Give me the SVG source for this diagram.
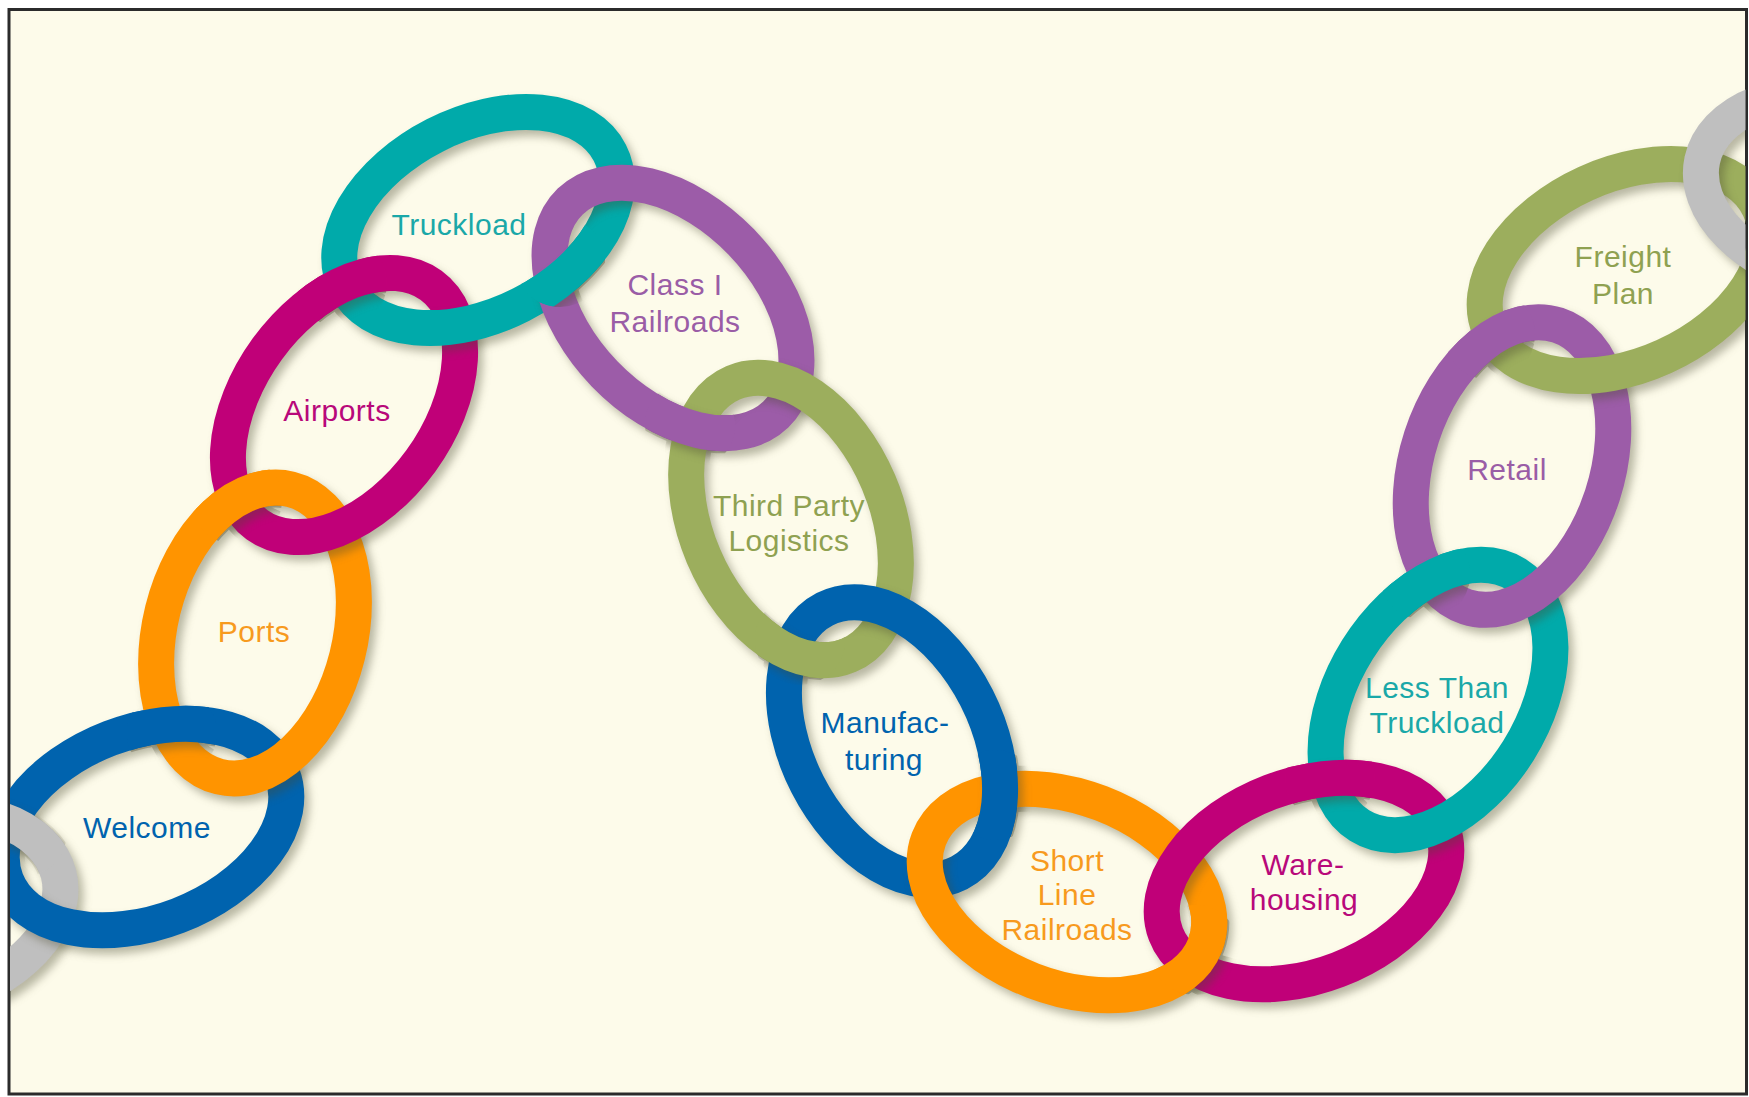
<svg xmlns="http://www.w3.org/2000/svg" xmlns:xlink="http://www.w3.org/1999/xlink" width="1749" height="1097" viewBox="0 0 1749 1097">
<style>
.ring{fill:none;stroke-width:36;filter:url(#sh)}
.blue{stroke:#0063AE}.orange{stroke:#FF9400}.magenta{stroke:#C00078}.teal{stroke:#00AAAA}
.purple{stroke:#9C5CA8}.green{stroke:#9CAE5D}.gray{stroke:#BFBFBF}
.m{fill:none;stroke:#fff}
text{font-family:"Liberation Sans",Arial,sans-serif;font-size:30px;letter-spacing:0.5px;text-anchor:middle}
.tblue{fill:#0063AE}.torange{fill:#F79A1E}.tmagenta{fill:#B8087A}.tteal{fill:#1AA8A8}.tpurple{fill:#9A5DA6}.tgreen{fill:#8FA151}
</style>
<defs>
<filter id="sh" x="-20%" y="-20%" width="140%" height="140%" color-interpolation-filters="sRGB">
<feDropShadow dx="5" dy="6" stdDeviation="4.5" flood-color="#4a4a30" flood-opacity="0.38"/>
</filter>
<clipPath id="frameClip"><rect x="10" y="10.5" width="1735.5" height="1082"/></clipPath>
<ellipse id="e0" fill="none" rx="148" ry="95" transform="translate(-85 910) rotate(-14)"/>
<ellipse id="e1" fill="none" rx="148" ry="95" transform="translate(144 827) rotate(-21)"/>
<ellipse id="e2" fill="none" rx="148" ry="95" transform="translate(255 633) rotate(-76)"/>
<ellipse id="e3" fill="none" rx="148" ry="95" transform="translate(344 405) rotate(-54)"/>
<ellipse id="e4" fill="none" rx="148" ry="95" transform="translate(478 220) rotate(-27)"/>
<ellipse id="e5" fill="none" rx="148" ry="95" transform="translate(673 308) rotate(46)"/>
<ellipse id="e6" fill="none" rx="148" ry="95" transform="translate(791 519) rotate(67)"/>
<ellipse id="e7" fill="none" rx="148" ry="95" transform="translate(892 741) rotate(63)"/>
<ellipse id="e8" fill="none" rx="148" ry="95" transform="translate(1067 892) rotate(21)"/>
<ellipse id="e9" fill="none" rx="148" ry="95" transform="translate(1304 881) rotate(-21)"/>
<ellipse id="e10" fill="none" rx="148" ry="95" transform="translate(1438 700) rotate(-58)"/>
<ellipse id="e11" fill="none" rx="148" ry="95" transform="translate(1512 466) rotate(-72)"/>
<ellipse id="e12" fill="none" rx="148" ry="95" transform="translate(1625 270) rotate(-24.5)"/>
<ellipse id="e13" fill="none" rx="148" ry="95" transform="translate(1847 191) rotate(12)"/>
<clipPath id="k0"><circle cx="22" cy="832" r="45"/></clipPath>
<clipPath id="k1"><circle cx="172" cy="733" r="45"/></clipPath>
<clipPath id="k2"><circle cx="237" cy="500" r="45"/></clipPath>
<clipPath id="k3"><circle cx="342" cy="283" r="45"/></clipPath>
<clipPath id="k4"><circle cx="560" cy="262" r="45"/></clipPath>
<clipPath id="k5"><circle cx="690" cy="425" r="45"/></clipPath>
<clipPath id="k6"><circle cx="800" cy="640" r="45"/></clipPath>
<clipPath id="k7"><circle cx="995" cy="795" r="45"/></clipPath>
<clipPath id="k8"><circle cx="1195" cy="950" r="45"/></clipPath>
<clipPath id="k9"><circle cx="1330" cy="778" r="45"/></clipPath>
<clipPath id="k10"><circle cx="1425" cy="575" r="45"/></clipPath>
<clipPath id="k11"><circle cx="1490" cy="335" r="45"/></clipPath>
<mask id="m0" maskUnits="userSpaceOnUse" x="-300" y="-300" width="2400" height="1700"><g clip-path="url(#k0)"><use href="#e0" class="m" stroke-width="40"/><use href="#e1" class="m" stroke-width="46"/></g></mask>
<mask id="m1" maskUnits="userSpaceOnUse" x="-300" y="-300" width="2400" height="1700"><g clip-path="url(#k1)"><use href="#e1" class="m" stroke-width="40"/><use href="#e2" class="m" stroke-width="46"/></g></mask>
<mask id="m2" maskUnits="userSpaceOnUse" x="-300" y="-300" width="2400" height="1700"><g clip-path="url(#k2)"><use href="#e2" class="m" stroke-width="40"/><use href="#e3" class="m" stroke-width="46"/></g></mask>
<mask id="m3" maskUnits="userSpaceOnUse" x="-300" y="-300" width="2400" height="1700"><g clip-path="url(#k3)"><use href="#e3" class="m" stroke-width="40"/><use href="#e4" class="m" stroke-width="46"/></g></mask>
<mask id="m4" maskUnits="userSpaceOnUse" x="-300" y="-300" width="2400" height="1700"><g clip-path="url(#k4)"><use href="#e4" class="m" stroke-width="40"/><use href="#e5" class="m" stroke-width="46"/></g></mask>
<mask id="m5" maskUnits="userSpaceOnUse" x="-300" y="-300" width="2400" height="1700"><g clip-path="url(#k5)"><use href="#e5" class="m" stroke-width="40"/><use href="#e6" class="m" stroke-width="46"/></g></mask>
<mask id="m6" maskUnits="userSpaceOnUse" x="-300" y="-300" width="2400" height="1700"><g clip-path="url(#k6)"><use href="#e6" class="m" stroke-width="40"/><use href="#e7" class="m" stroke-width="46"/></g></mask>
<mask id="m7" maskUnits="userSpaceOnUse" x="-300" y="-300" width="2400" height="1700"><g clip-path="url(#k7)"><use href="#e7" class="m" stroke-width="40"/><use href="#e8" class="m" stroke-width="46"/></g></mask>
<mask id="m8" maskUnits="userSpaceOnUse" x="-300" y="-300" width="2400" height="1700"><g clip-path="url(#k8)"><use href="#e8" class="m" stroke-width="40"/><use href="#e9" class="m" stroke-width="46"/></g></mask>
<mask id="m9" maskUnits="userSpaceOnUse" x="-300" y="-300" width="2400" height="1700"><g clip-path="url(#k9)"><use href="#e9" class="m" stroke-width="40"/><use href="#e10" class="m" stroke-width="46"/></g></mask>
<mask id="m10" maskUnits="userSpaceOnUse" x="-300" y="-300" width="2400" height="1700"><g clip-path="url(#k10)"><use href="#e10" class="m" stroke-width="40"/><use href="#e11" class="m" stroke-width="46"/></g></mask>
<mask id="m11" maskUnits="userSpaceOnUse" x="-300" y="-300" width="2400" height="1700"><g clip-path="url(#k11)"><use href="#e11" class="m" stroke-width="40"/><use href="#e12" class="m" stroke-width="46"/></g></mask>
</defs>
<rect x="0" y="0" width="1749" height="1097" fill="#ffffff"/>
<rect id="frame" x="9" y="9.5" width="1737.5" height="1084.5" fill="#FDFBEA" stroke="#2b2b2b" stroke-width="3"/>
<g id="chain" clip-path="url(#frameClip)">
<g id="link-gray-left"><use href="#e0" class="ring gray"/></g>
<g id="welcome"><use href="#e1" class="ring blue"/><text class="tblue" x="147" y="838">Welcome</text></g>
<g id="ports"><use href="#e2" class="ring orange"/><text class="torange" x="254" y="642">Ports</text></g>
<g id="airports"><use href="#e3" class="ring magenta"/><text class="tmagenta" x="337" y="421">Airports</text></g>
<g id="truckload"><use href="#e4" class="ring teal"/><text class="tteal" x="459" y="235">Truckload</text></g>
<g id="class-i-railroads"><use href="#e5" class="ring purple"/><text class="tpurple" x="675" y="295">Class I</text><text class="tpurple" x="675" y="332">Railroads</text></g>
<g id="third-party-logistics"><use href="#e6" class="ring green"/><text class="tgreen" x="789" y="516">Third Party</text><text class="tgreen" x="789" y="551">Logistics</text></g>
<g id="manufacturing"><use href="#e7" class="ring blue"/><text class="tblue" x="885" y="733">Manufac-</text><text class="tblue" x="884" y="770">turing</text></g>
<g id="short-line-railroads"><use href="#e8" class="ring orange"/><text class="torange" x="1067" y="871">Short</text><text class="torange" x="1067" y="905">Line</text><text class="torange" x="1067" y="940">Railroads</text></g>
<g id="warehousing"><use href="#e9" class="ring magenta"/><text class="tmagenta" x="1303" y="875">Ware-</text><text class="tmagenta" x="1304" y="910">housing</text></g>
<g id="less-than-truckload"><use href="#e10" class="ring teal"/><text class="tteal" x="1437" y="698">Less Than</text><text class="tteal" x="1437" y="733">Truckload</text></g>
<g id="retail"><use href="#e11" class="ring purple"/><text class="tpurple" x="1507" y="480">Retail</text></g>
<g id="freight-plan"><use href="#e12" class="ring green"/><text class="tgreen" x="1623" y="267">Freight</text><text class="tgreen" x="1623" y="304">Plan</text></g>
<g id="link-gray-right"><use href="#e13" class="ring gray"/></g>
<g id="interlocks">
<use href="#e0" class="ring gray" mask="url(#m0)"/>
<use href="#e1" class="ring blue" mask="url(#m1)"/>
<use href="#e2" class="ring orange" mask="url(#m2)"/>
<use href="#e3" class="ring magenta" mask="url(#m3)"/>
<use href="#e4" class="ring teal" mask="url(#m4)"/>
<use href="#e5" class="ring purple" mask="url(#m5)"/>
<use href="#e6" class="ring green" mask="url(#m6)"/>
<use href="#e7" class="ring blue" mask="url(#m7)"/>
<use href="#e8" class="ring orange" mask="url(#m8)"/>
<use href="#e9" class="ring magenta" mask="url(#m9)"/>
<use href="#e10" class="ring teal" mask="url(#m10)"/>
<use href="#e11" class="ring purple" mask="url(#m11)"/>
</g>
</g>
</svg>
